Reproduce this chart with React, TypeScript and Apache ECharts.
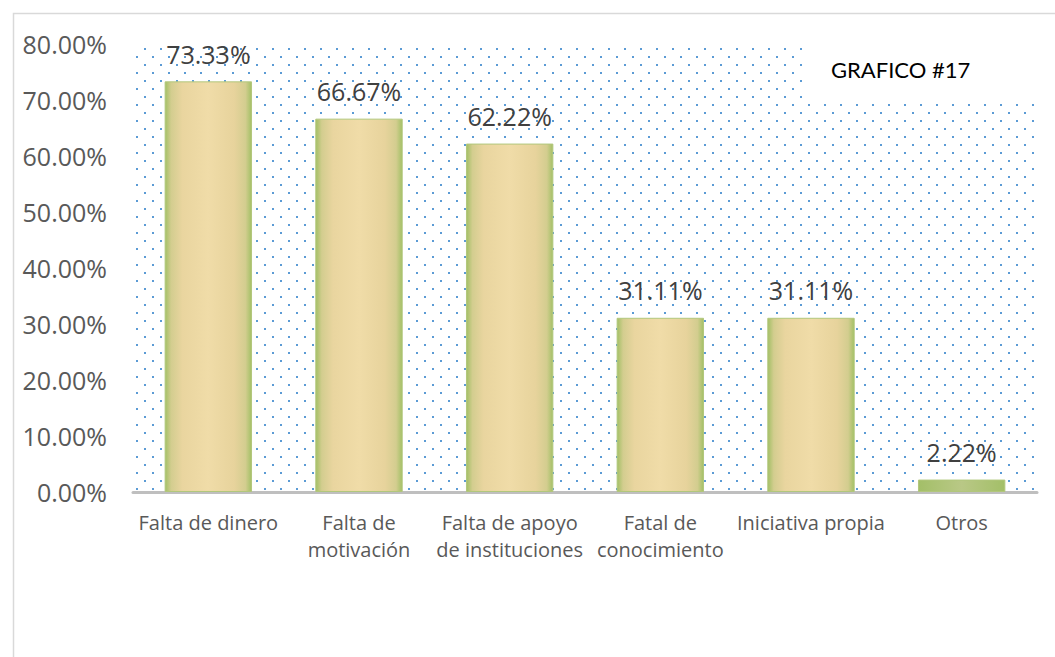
import React, { useEffect, useRef } from "react";
import * as echarts from "echarts";

const categories = [
  "Falta de dinero",
  "Falta de\nmotivación",
  "Falta de apoyo\nde instituciones",
  "Fatal de\nconocimiento",
  "Iniciativa propia",
  "Otros",
];
const values = [73.33, 66.67, 62.22, 31.11, 31.11, 2.22];
const yTicks = { min: 0, max: 80, interval: 10 };
const chartTitle = "GRAFICO #17";

function makeDotPattern(): HTMLCanvasElement {
  const c = document.createElement("canvas");
  c.width = 16;
  c.height = 16;
  const ctx = c.getContext("2d")!;
  ctx.fillStyle = "#5B9BD5";
  ctx.fillRect(0, 0, 2, 2);
  ctx.fillRect(8, 8, 2, 2);
  return c;
}

export default function App() {
  const ref = useRef<HTMLDivElement>(null);
  useEffect(() => {
    document.body.style.margin = "0";
    const chart = echarts.init(ref.current!, null, { renderer: "svg" });
    const papyrus = new echarts.graphic.LinearGradient(0, 0, 1, 0, [
      { offset: 0, color: "#A3C066" },
      { offset: 0.07, color: "#D3CD8F" },
      { offset: 0.2, color: "#E9D59F" },
      { offset: 0.5, color: "#F0DCA8" },
      { offset: 0.8, color: "#E7D39C" },
      { offset: 0.93, color: "#D3CD8F" },
      { offset: 1, color: "#A3C066" },
    ]);
    const greenSmall = new echarts.graphic.LinearGradient(0, 0, 1, 0, [
      { offset: 0, color: "#A3BF68" },
      { offset: 0.5, color: "#B9C886" },
      { offset: 1, color: "#A3BF68" },
    ]);
    const font = "'Open Sans', 'Noto Sans', sans-serif";
    chart.setOption({
      animation: false,
      backgroundColor: "#FFFFFF",
      grid: {
        left: 133,
        right: 18,
        top: 44,
        bottom: 165,
        show: true,
        borderWidth: 0,
        backgroundColor: { image: makeDotPattern(), repeat: "repeat" },
      },
      xAxis: {
        type: "category",
        data: categories,
        axisLine: { show: true, lineStyle: { color: "#BFBFBF", width: 3 } },
        axisTick: { show: false },
        axisLabel: {
          color: "#595959",
          fontSize: 20,
          fontFamily: font,
          lineHeight: 27,
          margin: 17,
          interval: 0,
        },
      },
      yAxis: {
        type: "value",
        min: yTicks.min,
        max: yTicks.max,
        interval: yTicks.interval,
        axisLine: { show: false },
        axisTick: { show: false },
        splitLine: { show: false },
        axisLabel: {
          color: "#595959",
          fontSize: 25,
          fontFamily: font,
          margin: 26,
          formatter: (v: number) => v.toFixed(2) + "%",
        },
      },
      series: [
        {
          type: "bar",
          barWidth: "58%",
          data: values.map((v) => ({
            value: v,
            itemStyle: { color: v < 5 ? greenSmall : papyrus },
          })),
          itemStyle: { borderColor: "#B2C77C", borderWidth: 1 },
          label: {
            show: true,
            position: "top",
            distance: 15,
            color: "#404040",
            fontSize: 25,
            fontFamily: font,
            formatter: (p: any) => p.value.toFixed(2) + "%",
          },
        },
      ],
      graphic: [
        {
          type: "rect",
          left: 11,
          top: 11,
          shape: { width: 1100, height: 700 },
          style: { fill: "none", stroke: "#D9D9D9", lineWidth: 1.5 },
          z: 100,
        },
        {
          type: "rect",
          left: 803,
          top: 40,
          shape: { width: 240, height: 58 },
          style: { fill: "#FFFFFF" },
          z: 50,
        },
        {
          type: "text",
          left: 831,
          top: 58,
          style: {
            text: chartTitle,
            fill: "#000000",
            fontSize: 22,
            fontFamily: "Lato, 'Noto Sans', sans-serif",
          },
          z: 51,
        },
      ],
    });
    return () => chart.dispose();
  }, []);
  return <div ref={ref} style={{ width: 1055, height: 657 }} />;
}
